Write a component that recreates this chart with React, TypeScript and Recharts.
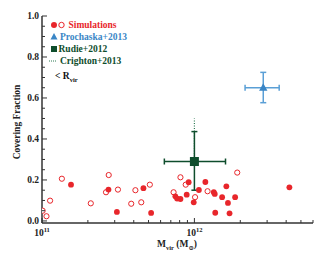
import React from "react";
import { ScatterChart, Scatter, XAxis, YAxis, ErrorBar } from "recharts";

const simFilled = [
  { x: 1.55e11, y: 0.177 }, { x: 2.73e11, y: 0.153 }, { x: 3.1e11, y: 0.044 },
  { x: 4.63e11, y: 0.16 }, { x: 5.2e11, y: 0.039 }, { x: 7.5e11, y: 0.12 },
  { x: 7.7e11, y: 0.109 }, { x: 8.1e11, y: 0.107 }, { x: 8.9e11, y: 0.128 },
  { x: 9.17e11, y: 0.189 }, { x: 9.9e11, y: 0.091 }, { x: 1.07e12, y: 0.151 },
  { x: 1.18e12, y: 0.19 }, { x: 1.34e12, y: 0.14 }, { x: 1.36e12, y: 0.132 },
  { x: 1.37e12, y: 0.04 }, { x: 1.52e12, y: 0.116 }, { x: 1.62e12, y: 0.169 },
  { x: 1.66e12, y: 0.088 }, { x: 1.7e12, y: 0.037 }, { x: 1.85e12, y: 0.116 },
  { x: 4.2e12, y: 0.164 },
];
const simOpen = [
  { x: 1.01e11, y: 0.05 }, { x: 1.07e11, y: 0.023 }, { x: 1.13e11, y: 0.099 },
  { x: 1.35e11, y: 0.206 }, { x: 2.09e11, y: 0.086 }, { x: 2.63e11, y: 0.14 },
  { x: 2.74e11, y: 0.224 }, { x: 3.15e11, y: 0.153 }, { x: 3.85e11, y: 0.084 },
  { x: 4.1e11, y: 0.15 }, { x: 4.48e11, y: 0.091 }, { x: 5.1e11, y: 0.177 },
  { x: 7.3e11, y: 0.14 }, { x: 8.1e11, y: 0.213 }, { x: 8.77e11, y: 0.177 },
  { x: 1.01e12, y: 0.116 }, { x: 1.22e12, y: 0.145 }, { x: 1.91e12, y: 0.236 },
];
const prochaska = [{ x: 2.83e12, y: 0.65, ex: [0.68e12, 0.77e12], ey: [0.073, 0.075] }];
const rudie = [{ x: 1e12, y: 0.29, ex: [3.65e11, 6.0e11], ey: [0.14, 0.146] }];
const crighton = [{ x: 1e12, y: 0.29, ey: [0, 0.21] }];

const xTicks = [1e11, 2e11, 3e11, 4e11, 5e11, 6e11, 7e11, 8e11, 9e11, 1e12, 2e12, 3e12, 4e12, 5e12, 6e12];
const xMajor = [1e11, 1e12];
const yTicks = [0, 0.05, 0.1, 0.15, 0.2, 0.25, 0.3, 0.35, 0.4, 0.45, 0.5, 0.55, 0.6, 0.65, 0.7, 0.75, 0.8, 0.85, 0.9, 0.95, 1.0];

const RED = "#e8262b";
const BLUE = "#3a86c6";
const BLUE_BAR = "#5a9fd6";
const DKGREEN = "#0e4d2c";
const CRGREEN = "#2f7a55";
const AX = "#333";
const FONT = "'Liberation Serif', 'DejaVu Serif', serif";

const isMajorY = (v: number) => Math.round(v * 100) % 20 === 0;
const isMajorX = (v: number) => xMajor.includes(v);

const BottomTick = (p: any) => {
  const v = p.payload.value;
  const maj = isMajorX(v);
  const exp = Math.round(Math.log10(v));
  return (
    <g>
      <line x1={p.x} x2={p.x} y1={p.y} y2={p.y - (maj ? 5 : 3)} stroke={AX} strokeWidth={1} />
      {maj && (
        <text x={p.x} y={p.y + 13} textAnchor="middle" fontFamily={FONT} fontWeight="bold" fontSize={9.5} fill="#222">
          10<tspan dy={-4} fontSize={6.5}>{exp}</tspan>
        </text>
      )}
    </g>
  );
};
const TopTick = (p: any) => {
  const v = p.payload.value;
  const maj = isMajorX(v);
  return <line x1={p.x} x2={p.x} y1={p.y} y2={p.y + (maj ? 5 : 3)} stroke={AX} strokeWidth={1} />;
};
const LeftTick = (p: any) => {
  const v = p.payload.value;
  const maj = isMajorY(v);
  return (
    <g>
      <line x1={p.x} x2={p.x + (maj ? 5 : 3)} y1={p.y} y2={p.y} stroke={AX} strokeWidth={1} />
      {maj && (
        <text x={p.x - 3} y={p.y + 3.3} textAnchor="end" fontFamily={FONT} fontWeight="bold" fontSize={9.5} fill="#222">
          {v.toFixed(1)}
        </text>
      )}
    </g>
  );
};
const RightTick = (p: any) => {
  const v = p.payload.value;
  const maj = isMajorY(v);
  return <line x1={p.x} x2={p.x - (maj ? 5 : 3)} y1={p.y} y2={p.y} stroke={AX} strokeWidth={1} />;
};

const FilledDot = (p: any) => <circle cx={p.cx} cy={p.cy} r={2.9} fill={RED} />;
const OpenDot = (p: any) => <circle cx={p.cx} cy={p.cy} r={2.6} fill="#fff" stroke={RED} strokeWidth={1} />;
const Tri = (p: any) => (
  <polygon points={`${p.cx},${p.cy - 4.5} ${p.cx - 4.2},${p.cy + 3} ${p.cx + 4.2},${p.cy + 3}`} fill={BLUE} />
);
const Sq = (p: any) => <rect x={p.cx - 4.5} y={p.cy - 4.5} width={9} height={9} fill={DKGREEN} />;
const NoShape = () => <g />;

export default function App() {
  return (
    <div style={{ position: "absolute", left: 0, top: 0, width: 336, height: 256, background: "#fff" }}>
      <ScatterChart width={336} height={256} margin={{ top: 16, right: 23, bottom: 0, left: 0 }}>
        <XAxis
          xAxisId={0}
          dataKey="x"
          type="number"
          scale="log"
          domain={[1e11, 6e12]}
          allowDataOverflow
          ticks={xTicks}
          interval={0}
          height={33}
          tickSize={0}
          tickMargin={0}
          tickLine={false}
          axisLine={{ stroke: AX, strokeWidth: 1.5 }}
          tick={<BottomTick />}
        />
        <XAxis
          xAxisId="top"
          orientation="top"
          dataKey="x"
          type="number"
          scale="log"
          domain={[1e11, 6e12]}
          allowDataOverflow
          ticks={xTicks}
          interval={0}
          height={0}
          tickSize={0}
          tickMargin={0}
          tickLine={false}
          axisLine={{ stroke: AX, strokeWidth: 1.5 }}
          tick={<TopTick />}
        />
        <YAxis
          yAxisId={0}
          dataKey="y"
          type="number"
          domain={[-0.01, 1.0]}
          allowDataOverflow
          ticks={yTicks}
          interval={0}
          width={42}
          tickSize={0}
          tickMargin={0}
          tickLine={false}
          axisLine={{ stroke: AX, strokeWidth: 1.5 }}
          tick={<LeftTick />}
        />
        <YAxis
          yAxisId="right"
          orientation="right"
          dataKey="y"
          type="number"
          domain={[-0.01, 1.0]}
          allowDataOverflow
          ticks={yTicks}
          interval={0}
          width={0}
          tickSize={0}
          tickMargin={0}
          tickLine={false}
          axisLine={{ stroke: AX, strokeWidth: 1.5 }}
          tick={<RightTick />}
        />
        <Scatter data={simOpen} shape={<OpenDot />} isAnimationActive={false} />
        <Scatter data={simFilled} shape={<FilledDot />} isAnimationActive={false} />
        <Scatter data={crighton} shape={<NoShape />} isAnimationActive={false}>
          <ErrorBar dataKey="ey" direction="y" width={0} stroke={CRGREEN} strokeWidth={1.2} strokeDasharray="1 1.5" />
        </Scatter>
        <Scatter data={rudie} shape={<Sq />} isAnimationActive={false}>
          <ErrorBar dataKey="ex" direction="x" width={3} stroke={DKGREEN} strokeWidth={1.5} />
          <ErrorBar dataKey="ey" direction="y" width={3} stroke={DKGREEN} strokeWidth={1.5} />
        </Scatter>
        <Scatter data={prochaska} shape={<Tri />} isAnimationActive={false}>
          <ErrorBar dataKey="ex" direction="x" width={3} stroke={BLUE_BAR} strokeWidth={1.5} />
          <ErrorBar dataKey="ey" direction="y" width={3} stroke={BLUE_BAR} strokeWidth={1.5} />
        </Scatter>
      </ScatterChart>
      <svg width={336} height={256} style={{ position: "absolute", left: 0, top: 0, pointerEvents: "none" }}>
        <g fontFamily={FONT} fontWeight="bold" fontSize={9.5}>
          <circle cx={54} cy={25} r={3} fill={RED} />
          <circle cx={61.5} cy={25} r={2.7} fill="#fff" stroke={RED} strokeWidth={1} />
          <text x={68.5} y={28.3} fill={RED}>Simulations</text>
          <polygon points="54,33 50.5,39.5 57.5,39.5" fill={BLUE} />
          <text x={60} y={40.3} fill={BLUE}>Prochaska+2013</text>
          <rect x={51} y={46} width={6} height={6} fill={DKGREEN} />
          <text x={58.5} y={52.3} fill={DKGREEN}>Rudie+2012</text>
          <line x1={49} x2={56} y1={61} y2={61} stroke={CRGREEN} strokeWidth={1} strokeDasharray="1 1" />
          <text x={60} y={64.3} fill={DKGREEN}>Crighton+2013</text>
          <text x={55} y={79} fill="#111">
            {"< R"}<tspan dy={2.5} fontSize={6.5}>vir</tspan>
          </text>
          <text x={20} y={122} transform="rotate(-90 20 122)" textAnchor="middle" fill="#222">Covering Fraction</text>
          <text x={177} y={247} textAnchor="middle" fill="#222">
            M<tspan dy={2.5} fontSize={6.5}>vir</tspan><tspan dy={-2.5}> (M</tspan><tspan dy={2.5} fontSize={6.5}>⊙</tspan><tspan dy={-2.5}>)</tspan>
          </text>
        </g>
      </svg>
    </div>
  );
}
